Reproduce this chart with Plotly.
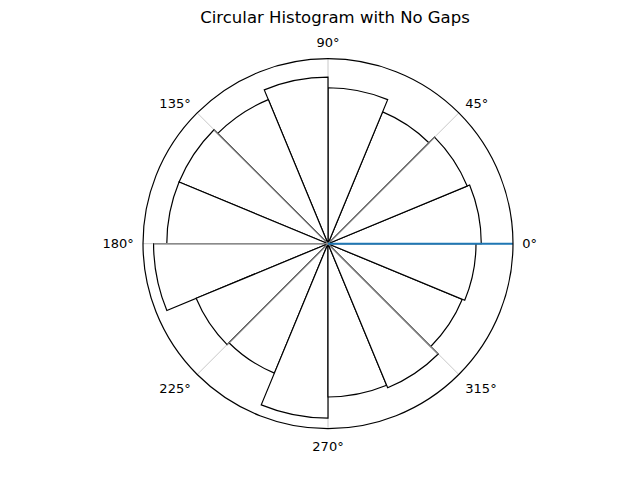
import plotly.graph_objects as go

title = "Circular Histogram with No Gaps"
bin_width = 22.5
bin_centers = [11.25 + 22.5 * i for i in range(16)]
counts = [58, 57, 54, 59, 63, 59, 61, 61, 66, 54, 53, 66, 58, 59, 55, 56]
r_max = 70
tick_angles = [0, 45, 90, 135, 180, 225, 270, 315]
tick_labels = ["0°", "45°", "90°", "135°", "180°", "225°", "270°", "315°"]

fig = go.Figure()
fig.add_trace(go.Barpolar(
    r=counts, theta=bin_centers, width=[bin_width] * len(counts),
    marker=dict(color="white", line=dict(color="black", width=1.2)),
    showlegend=False, hoverinfo="skip",
))

# grey grid segments seen through bars at 45° multiples (not 0/90/270)
gr, gt = [], []
n = len(counts)
for a in [45, 135, 180, 225, 315]:
    k = int(a / bin_width)
    rr = max(counts[k % n], counts[(k - 1) % n])
    gr += [0, rr, None]
    gt += [a, a, None]
fig.add_trace(go.Scatterpolar(r=gr, theta=gt, mode="lines",
                              line=dict(color="#8a8a8a", width=1.2),
                              showlegend=False, hoverinfo="skip"))

fig.add_trace(go.Scatterpolar(r=[0, r_max], theta=[0, 0], mode="lines",
                              line=dict(color="#1f77b4", width=1.9),
                              showlegend=False, hoverinfo="skip"))

x0, x1 = (143 - 8) / 640, (513 - 8) / 640
y0, y1 = (52.3 + 7) / 480, (422.3 + 7) / 480

fig.update_layout(
    width=640, height=480,
    margin=dict(l=0, r=0, t=0, b=0),
    paper_bgcolor="white",
    font=dict(family="DejaVu Sans", size=13, color="black"),
    title=dict(text=title, x=0.511, xanchor="center", y=0.98, yanchor="middle",
               font=dict(size=16.5, family="DejaVu Sans", color="black")),
    polar=dict(
        domain=dict(x=[x0, x1], y=[y0, y1]),
        bgcolor="white",
        radialaxis=dict(range=[0, r_max], showticklabels=False, ticks="",
                        showgrid=False, showline=False),
        angularaxis=dict(direction="counterclockwise", rotation=0,
                         tickmode="array", tickvals=tick_angles, ticktext=tick_labels,
                         ticks="outside", ticklen=6, tickcolor="rgba(0,0,0,0)",
                         showline=True, linecolor="black", linewidth=1.2,
                         gridcolor="#c8c8c8", gridwidth=1,
                         tickfont=dict(size=13, family="DejaVu Sans")),
    ),
)

fig.write_html("out.html")
